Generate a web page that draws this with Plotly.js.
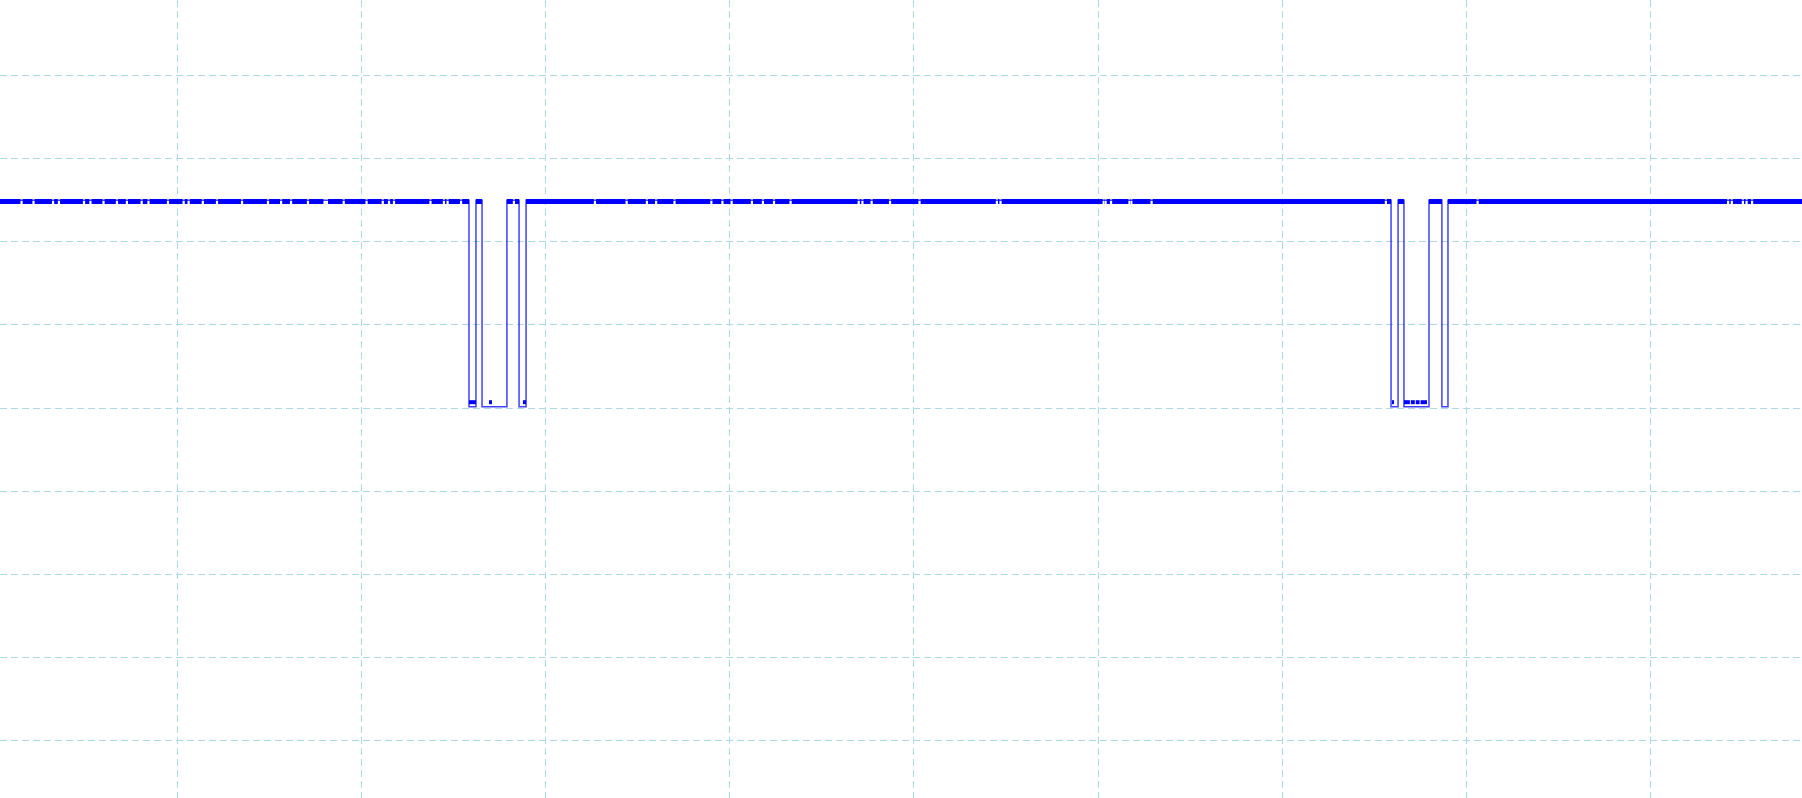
<!DOCTYPE html>
<html>
<head>
<meta charset="utf-8">
<script src="https://cdn.plot.ly/plotly-3.0.1.min.js"></script>
<style>
  html, body { margin: 0; padding: 0; background: #ffffff; }
  #chart { width: 1802px; height: 798px; }
</style>
</head>
<body>
<div id="chart"></div>
<script>
// ---- data (time in ms, level in V) ----
const edgeTimes  = [0.38, 25.84, 26.22, 26.55, 27.90, 28.56, 28.94, 75.90, 76.28, 76.60, 77.96, 78.66, 78.99, 98.21];
const edgeLevels = [5.0,  0.03,  5.0,   0.03,  5.0,   0.03,  5.0,   0.03,  5.0,   0.03,  5.0,   0.03,  5.0,   5.0];

// intervals where the high level is drawn as a dense band
const highStart = [0.38, 26.22, 27.90, 28.94, 76.28, 77.96, 78.99];
const highEnd   = [25.84, 26.55, 28.56, 75.90, 76.60, 78.66, 98.21];
const highBandLevel = 4.97;

// short glitches (gaps) in the high band
const bandGaps = [1.55, 2.20, 3.26, 3.58, 4.94, 5.29, 6.00, 6.73, 7.27, 8.07, 8.44, 9.50, 10.35, 10.62,
  11.39, 12.16, 13.52, 14.93, 15.64, 16.18, 17.10, 18.00, 18.13, 19.04, 20.28, 21.16, 21.50, 21.77,
  23.75, 24.48, 24.68, 25.41, 28.28, 32.68, 34.4, 35.5, 36.0, 37.0, 39.0, 39.6, 40.1, 41.2, 41.8, 42.4,
  43.3, 47.0, 47.2, 47.7, 48.7, 50.3, 54.5, 54.7, 60.3, 60.4, 60.7, 61.7, 61.8, 62.9, 75.62, 80.6, 94.2, 94.4, 95.0, 95.2, 95.5];

// thicker stretches at the low level
const lowStart = [25.84, 26.93, 28.77, 75.95, 76.60, 76.97, 77.24, 77.50];
const lowEnd   = [26.22, 27.09, 28.94, 76.06, 76.92, 77.19, 77.45, 77.85];
const lowBandLevel = 0.14;

// ---- build band traces ----
const GAP = 0.06; // half width of a glitch in ms
function buildBand(starts, ends, gaps, level) {
  const xs = [], ys = [];
  for (let i = 0; i < starts.length; i++) {
    let a = starts[i];
    const inside = gaps.filter(g => g > starts[i] && g < ends[i]).sort((p, q) => p - q);
    for (const g of inside) {
      xs.push(a, g - GAP, null); ys.push(level, level, null);
      a = g + GAP;
    }
    xs.push(a, ends[i], null); ys.push(level, level, null);
  }
  return {xs, ys};
}
const hb = buildBand(highStart, highEnd, bandGaps, highBandLevel);
const lb = buildBand(lowStart, lowEnd, [], lowBandLevel);

const traces = [
  { x: hb.xs, y: hb.ys, mode: 'lines', line: {color: '#0000ff', width: 5}, connectgaps: false, hoverinfo: 'skip' },
  { x: lb.xs, y: lb.ys, mode: 'lines', line: {color: '#0000ff', width: 4}, connectgaps: false, hoverinfo: 'skip' },
  { x: edgeTimes, y: edgeLevels, mode: 'lines', line: {color: 'rgba(0,0,255,0.75)', width: 1.5, shape: 'hv'} }
];

const axisCommon = {
  showgrid: true, gridcolor: '#add8e6', gridwidth: 1, griddash: '7px,4px',
  zeroline: false, showticklabels: false, ticks: '', showline: false
};
const layout = {
  width: 1802, height: 798,
  margin: {l: 0, r: 0, t: 0, b: 0, pad: 0},
  paper_bgcolor: '#ffffff', plot_bgcolor: '#ffffff',
  showlegend: false,
  xaxis: Object.assign({}, axisCommon, {range: [0.38, 98.21], tick0: 0, dtick: 10}),
  yaxis: Object.assign({}, axisCommon, {range: [-9.386, 9.82], tick0: 0, dtick: 2})
};
Plotly.newPlot('chart', traces, layout, {staticPlot: true, displayModeBar: false});
</script>
</body>
</html>
